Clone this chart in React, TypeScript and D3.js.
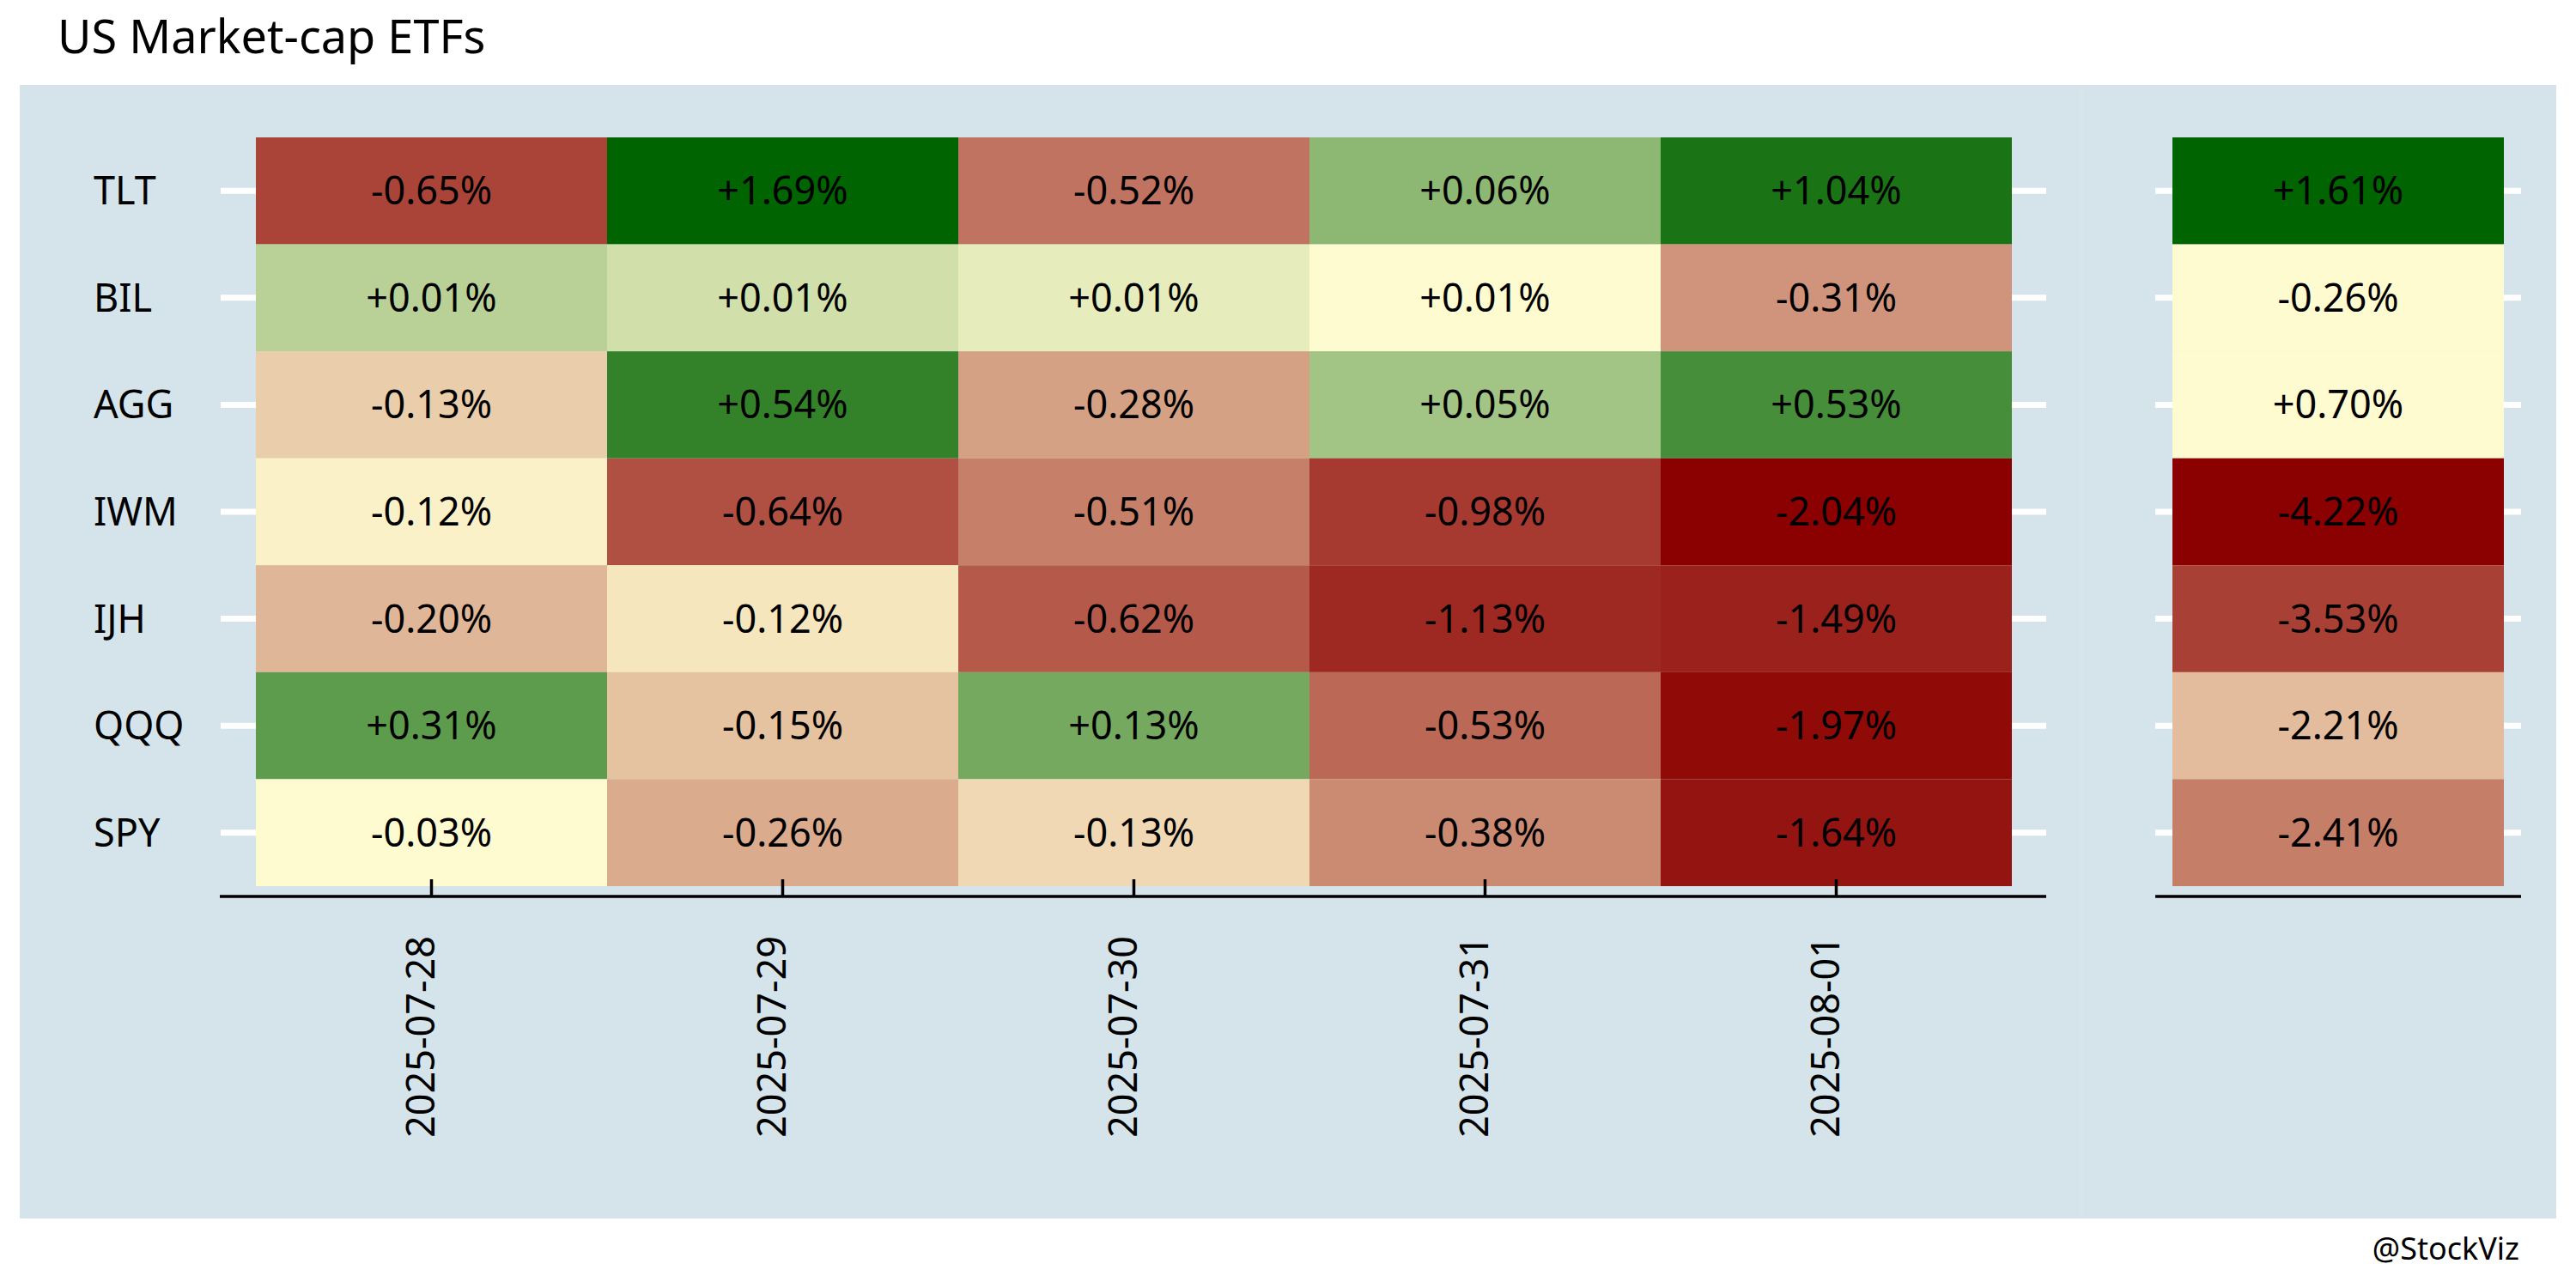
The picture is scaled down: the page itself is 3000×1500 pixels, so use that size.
import React from "react";
import * as d3 from "d3";

const title = "US Market-cap ETFs";
const credit = "@StockViz";
const symbols = ["TLT", "BIL", "AGG", "IWM", "IJH", "QQQ", "SPY"];
const dates = ["2025-07-28", "2025-07-29", "2025-07-30", "2025-07-31", "2025-08-01"];

// daily returns (%) per symbol, one entry per date
const dailyReturns: number[][] = [
  [-0.65, 1.69, -0.52, 0.06, 1.04],
  [0.01, 0.01, 0.01, 0.01, -0.31],
  [-0.13, 0.54, -0.28, 0.05, 0.53],
  [-0.12, -0.64, -0.51, -0.98, -2.04],
  [-0.2, -0.12, -0.62, -1.13, -1.49],
  [0.31, -0.15, 0.13, -0.53, -1.97],
  [-0.03, -0.26, -0.13, -0.38, -1.64],
];
// relative colour score (-1 worst .. +1 best) read from the tile shading
const dailyScores: number[][] = [
  [-0.73, 1.0, -0.54, 0.447, 0.9],
  [0.275, 0.18, 0.1, 0.0, -0.41],
  [-0.18, 0.8, -0.36, 0.365, 0.725],
  [-0.04, -0.68, -0.49, -0.77, -1.0],
  [-0.275, -0.085, -0.64, -0.835, -0.865],
  [0.63, -0.225, 0.54, -0.585, -0.96],
  [0.0, -0.32, -0.14, -0.45, -0.92],
];
const totalReturns = [1.61, -0.26, 0.7, -4.22, -3.53, -2.21, -2.41];
const totalScores = [1.0, 0.0, 0.0, -1.0, -0.745, -0.25, -0.5];

const W = 3000;
const H = 1500;
const FONT = "'Noto Sans', 'Open Sans', sans-serif";
const BG = "#d5e4eb";

export default function App() {
  const x = d3.scaleBand<string>().domain(dates).range([298, 2343]).padding(0);
  const xTot = d3.scaleBand<string>().domain(["total"]).range([2530, 2916]).padding(0);
  const y = d3.scaleBand<string>().domain(symbols).range([160, 1032]).padding(0);
  const color = d3
    .scaleLinear<string>()
    .domain([-1, 0, 1])
    .range(["#8b0000", "#fffbd0", "#006400"])
    .interpolate(d3.interpolateRgb)
    .clamp(true);
  const fmt = (v: number) => (v >= 0 ? "+" : "") + v.toFixed(2) + "%";
  const fs = 45;
  const capOff = fs * 0.357;
  const axisY = 1044;

  return (
    <svg
      width={W}
      height={H}
      style={{ position: "absolute", left: 0, top: 0, background: "#ffffff" }}
      fontFamily={FONT}
    >
      <rect x={0} y={0} width={W} height={H} fill="#ffffff" />
      <text x={67} y={62} fontSize={54} fill="#000">
        {title}
      </text>
      <rect x={23} y={99} width={2954} height={1320} fill={BG} />
      <line x1={2424} x2={2424} y1={99} y2={1419} stroke="#d8e6ec" strokeWidth={2} />

      {/* gridlines */}
      {symbols.map((s) => {
        const cy = (y(s) as number) + y.bandwidth() / 2;
        return (
          <g key={"g" + s}>
            <line x1={257} x2={2383} y1={cy} y2={cy} stroke="#ffffff" strokeWidth={7} />
            <line x1={2510} x2={2936} y1={cy} y2={cy} stroke="#ffffff" strokeWidth={7} />
          </g>
        );
      })}

      {/* daily tiles */}
      {symbols.map((s, i) =>
        dates.map((d, j) => (
          <rect
            key={s + d}
            x={x(d)}
            y={y(s)}
            width={x.bandwidth()}
            height={y.bandwidth()}
            fill={color(dailyScores[i][j])}
          />
        ))
      )}
      {/* total tiles */}
      {symbols.map((s, i) => (
        <rect
          key={"t" + s}
          x={xTot("total")}
          y={y(s)}
          width={xTot.bandwidth()}
          height={y.bandwidth()}
          fill={color(totalScores[i])}
        />
      ))}

      {/* axes */}
      <line x1={256} x2={2383} y1={axisY} y2={axisY} stroke="#000" strokeWidth={3.5} />
      <line x1={2510} x2={2936} y1={axisY} y2={axisY} stroke="#000" strokeWidth={3.5} />
      {dates.map((d) => {
        const cx = (x(d) as number) + x.bandwidth() / 2;
        return (
          <g key={"tk" + d}>
            <line x1={cx} x2={cx} y1={axisY} y2={axisY - 20} stroke="#000" strokeWidth={3.5} />
            <text
              transform={`translate(${cx + 3},${1090}) rotate(-90)`}
              textAnchor="end"
              fontSize={fs}
              fill="#000"
            >
              {d}
            </text>
          </g>
        );
      })}

      {/* cell labels */}
      {symbols.map((s, i) =>
        dates.map((d, j) => (
          <text
            key={"l" + s + d}
            x={(x(d) as number) + x.bandwidth() / 2}
            y={(y(s) as number) + y.bandwidth() / 2 + capOff}
            textAnchor="middle"
            fontSize={fs}
            fill="#000"
          >
            {fmt(dailyReturns[i][j])}
          </text>
        ))
      )}
      {symbols.map((s, i) => (
        <text
          key={"lt" + s}
          x={(xTot("total") as number) + xTot.bandwidth() / 2}
          y={(y(s) as number) + y.bandwidth() / 2 + capOff}
          textAnchor="middle"
          fontSize={fs}
          fill="#000"
        >
          {fmt(totalReturns[i])}
        </text>
      ))}

      {/* y labels */}
      {symbols.map((s) => (
        <text
          key={"yl" + s}
          x={109}
          y={(y(s) as number) + y.bandwidth() / 2 + capOff}
          fontSize={fs}
          fill="#000"
        >
          {s}
        </text>
      ))}

      <text x={2934} y={1467} textAnchor="end" fontSize={36} fill="#000">
        {credit}
      </text>
    </svg>
  );
}
